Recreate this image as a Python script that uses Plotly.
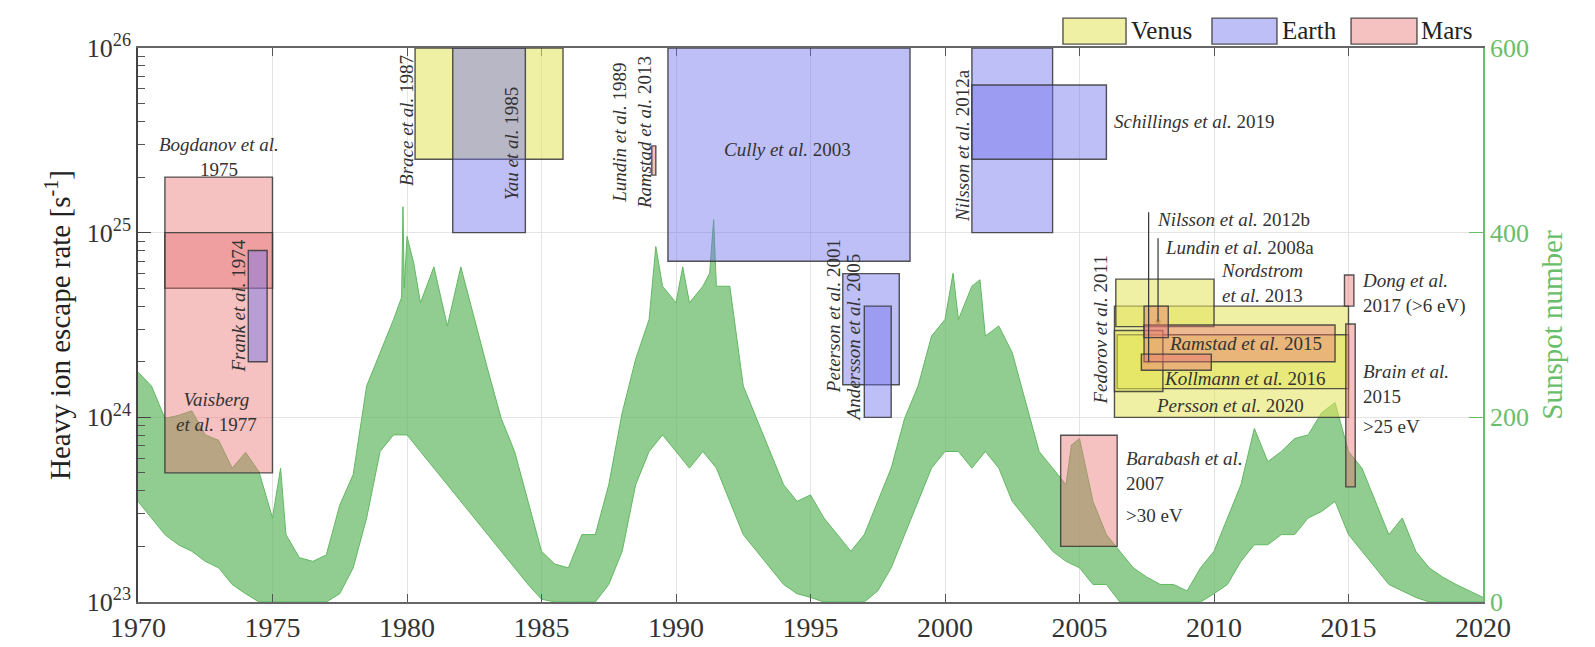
import plotly.graph_objects as go

# ---------------- data ----------------
# Sunspot number: upper envelope (spikes) and lower edge of the dense band
SSN_UP_YEAR = [1970.0, 1970.5, 1971.0, 1971.5, 1972.0, 1972.5, 1973.0, 1973.5, 1974.0, 1974.5,
               1975.0, 1975.3, 1975.5, 1976.0, 1976.5, 1977.0, 1977.5, 1978.0, 1978.5, 1979.0,
               1979.5, 1979.8, 1979.85, 1979.9, 1980.0, 1980.25, 1980.5, 1981.0, 1981.5, 1982.0,
               1982.5, 1983.0, 1983.5, 1984.0, 1984.5, 1985.0, 1985.5, 1986.0, 1986.5, 1987.0,
               1987.5, 1988.0, 1988.5, 1989.0, 1989.25, 1989.5, 1990.0, 1990.25, 1990.5, 1991.0,
               1991.25, 1991.4, 1991.5, 1992.0, 1992.5, 1993.0, 1993.5, 1994.0, 1994.5, 1995.0,
               1995.5, 1996.0, 1996.5, 1997.0, 1997.5, 1998.0, 1998.5, 1999.0, 1999.5, 2000.0,
               2000.3, 2000.5, 2001.0, 2001.3, 2001.5, 2002.0, 2002.5, 2003.0, 2003.5, 2004.0,
               2004.5, 2004.7, 2005.0, 2005.5, 2006.0, 2006.5, 2007.0, 2007.5, 2008.0, 2008.5,
               2009.0, 2009.5, 2010.0, 2010.5, 2011.0, 2011.5, 2012.0, 2012.5, 2013.0, 2013.5,
               2014.0, 2014.5, 2015.0, 2015.5, 2016.0, 2016.5, 2017.0, 2017.5, 2018.0, 2018.5,
               2019.0, 2019.5, 2020.0]
SSN_UP = [249, 234, 199, 202, 207, 181, 175, 145, 162, 141,
          91, 145, 73, 48, 44, 51, 105, 138, 234, 270,
          306, 330, 428, 340, 396, 367, 324, 363, 299, 363,
          306, 252, 199, 163, 109, 55, 41, 37, 73, 73,
          127, 205, 263, 306, 385, 342, 324, 363, 324, 342,
          356, 414, 342, 342, 234, 199, 163, 127, 109, 116,
          91, 73, 55, 73, 109, 145, 199, 234, 288, 306,
          356, 306, 342, 349, 288, 299, 270, 216, 163, 145,
          127, 170, 177, 109, 73, 55, 37, 27, 19, 19,
          12, 37, 55, 91, 127, 188, 152, 163, 177, 181,
          205, 216, 163, 145, 109, 73, 91, 55, 37, 27,
          19, 12, 5]
SSN_LO_YEAR = [1970.0, 1970.5, 1971.0, 1971.5, 1972.0, 1972.5, 1973.0, 1973.5, 1974.0, 1974.5,
               1975.0, 1975.5, 1976.0, 1976.5, 1977.0, 1977.5, 1978.0, 1978.5, 1979.0, 1979.5,
               1980.0, 1980.5, 1981.0, 1981.5, 1982.0, 1982.5, 1983.0, 1983.5, 1984.0, 1984.5,
               1985.0, 1985.5, 1986.0, 1986.5, 1987.0, 1987.5, 1988.0, 1988.5, 1989.0, 1989.5,
               1990.0, 1990.5, 1991.0, 1991.5, 1992.0, 1992.5, 1993.0, 1993.5, 1994.0, 1994.5,
               1995.0, 1995.5, 1996.0, 1996.5, 1997.0, 1997.5, 1998.0, 1998.5, 1999.0, 1999.5,
               2000.0, 2000.5, 2001.0, 2001.5, 2002.0, 2002.5, 2003.0, 2003.5, 2004.0, 2004.5,
               2005.0, 2005.5, 2006.0, 2006.5, 2007.0, 2007.5, 2008.0, 2008.5, 2009.0, 2009.5,
               2010.0, 2010.5, 2011.0, 2011.5, 2012.0, 2012.5, 2013.0, 2013.5, 2014.0, 2014.5,
               2015.0, 2015.5, 2016.0, 2016.5, 2017.0, 2017.5, 2018.0, 2018.5, 2019.0, 2019.5,
               2020.0]
SSN_LO = [109, 91, 73, 62, 55, 44, 37, 19, 9, 0,
          0, 0, 0, 0, 0, 9, 37, 91, 163, 181,
          181, 163, 145, 127, 109, 91, 73, 55, 37, 19,
          3, 0, 0, 0, 0, 19, 55, 127, 163, 181,
          163, 145, 163, 145, 109, 73, 55, 37, 19, 9,
          5, 0, 0, 0, 0, 12, 37, 73, 109, 145,
          163, 163, 145, 163, 145, 109, 91, 73, 55, 44,
          37, 19, 19, 0, 0, 0, 0, 0, 0, 0,
          9, 19, 44, 62, 62, 73, 73, 91, 98, 109,
          73, 55, 37, 19, 12, 5, 0, 0, 0, 0,
          0]

# Escape-rate estimates (boxes): years x0-x1, rates y0-y1 [s^-1]
BOX_NAME = ["Bogdanov 1975", "Vaisberg 1977", "Frank 1974", "Brace 1987", "Yau 1985",
            "Lundin 1989 / Ramstad 2013", "Cully 2003", "Peterson 2001", "Andersson 2005",
            "Nilsson 2012a", "Schillings 2019", "Barabash 2007", "Persson 2020",
            "Kollmann 2016", "Nordstrom 2013", "Fedorov 2011", "Ramstad 2015",
            "Lundin 2008a", "Nilsson 2012b", "Dong 2017", "Brain 2015"]
BOX_PLANET = ["Mars", "Mars", "Earth", "Venus", "Earth",
              "Mars", "Earth", "Earth", "Earth",
              "Earth", "Earth", "Mars", "Venus",
              "Venus", "Venus", "Venus", "Mars",
              "Mars", "Mars", "Mars", "Mars"]
BOX_X0 = [1971.0, 1971.0, 1974.1, 1980.3, 1981.7,
          1989.1, 1989.7, 1996.2, 1997.0,
          2001.0, 2001.0, 2004.3, 2006.3,
          2006.4, 2006.35, 2006.3, 2007.4,
          2007.4, 2007.3, 2014.85, 2014.9]
BOX_X1 = [1975.0, 1975.0, 1974.8, 1985.8, 1984.4,
          1989.25, 1998.7, 1998.3, 1998.0,
          2004.0, 2006.0, 2006.4, 2015.0,
          2015.0, 2010.0, 2008.1, 2014.5,
          2008.3, 2009.9, 2015.2, 2015.25]
BOX_Y0 = [5e24, 5e23, 2e24, 2.5e25, 1e25,
          2.05e25, 7e24, 1.5e24, 1e24,
          1e25, 2.5e25, 2e23, 1e24,
          1.43e24, 3.1e24, 1.38e24, 2e24,
          2.7e24, 1.8e24, 4e24, 4.2e23]
BOX_Y1 = [2e25, 1e25, 8e24, 1e26, 1e26,
          2.95e25, 1e26, 6e24, 4e24,
          1e26, 6.3e25, 8e23, 4e24,
          2.8e24, 5.6e24, 2.95e24, 3.16e24,
          4e24, 2.2e24, 5.9e24, 3.2e24]

# marked points (Lundin 2008a, Nilsson 2012b)
DOT_X = [2007.92, 2007.57]
DOT_Y = [3.3e24, 2.0e24]

PLANETS = ["Venus", "Earth", "Mars"]
X_TICKS = [1970, 1975, 1980, 1985, 1990, 1995, 2000, 2005, 2010, 2015, 2020]
Y_TICK_EXP = [23, 24, 25, 26]
SSN_TICKS = [0, 200, 400, 600]

# ---------------- styles / label placement ----------------
FILL = {"Venus": "rgba(228,228,90,0.55)",
        "Earth": "rgba(112,112,238,0.45)",
        "Mars": "rgba(232,118,118,0.45)"}
EDGE = "rgba(55,55,55,0.85)"
GREEN = "rgb(98,184,98)"
GREEN_TXT = "rgb(105,190,105)"
SERIF = "Liberation Serif, Times New Roman, Times, serif"

LABELS = [
    ("<i>Bogdanov et al.</i><br>1975", 1973.0, 25.41, 0, "center"),
    ("<i>Vaisberg</i><br><i>et al.</i> 1977", 1972.9, 24.03, 0, "center"),
    ("<i>Frank et al.</i> 1974", 1973.72, 24.60, -90, "center"),
    ("<i>Brace et al.</i> 1987", 1979.96, 25.61, -90, "center"),
    ("<i>Yau et al.</i> 1985", 1983.87, 25.48, -90, "center"),
    ("<i>Lundin et al.</i> 1989<br><i>Ramstad et al.</i> 2013", 1988.37, 25.54, -90, "center"),
    ("<i>Cully et al.</i> 2003", 1994.16, 25.45, 0, "center"),
    ("<i>Peterson et al.</i> 2001", 1995.85, 24.55, -90, "center"),
    ("<i>Andersson et al.</i> 2005", 1996.6, 24.43, -90, "center"),
    ("<i>Nilsson et al.</i> 2012a", 2000.67, 25.47, -90, "center"),
    ("<i>Schillings et al.</i> 2019", 2006.2, 25.6, 0, "left"),
    ("<i>Nilsson et al.</i> 2012b", 2007.8, 25.07, 0, "left"),
    ("<i>Lundin et al.</i> 2008a", 2008.1, 24.92, 0, "left"),
    ("<i>Nordstrom</i><br><i>et al.</i> 2013", 2010.2, 24.73, 0, "left"),
    ("<i>Fedorov et al.</i> 2011", 2005.8, 24.47, -90, "center"),
    ("<i>Ramstad et al.</i> 2015", 2011.17, 24.40, 0, "center"),
    ("<i>Kollmann et al.</i> 2016", 2011.15, 24.21, 0, "center"),
    ("<i>Persson et al.</i> 2020", 2010.58, 24.065, 0, "center"),
    ("<i>Dong et al.</i><br>2017 (>6 eV)", 2015.43, 24.67, 0, "left"),
    ("<i>Brain et al.</i><br>2015", 2015.47, 24.18, 0, "left"),
    (">25 eV", 2015.47, 23.95, 0, "left"),
    ("<i>Barabash et al.</i><br>2007", 2006.65, 23.71, 0, "left"),
    (">30 eV", 2006.65, 23.47, 0, "left"),
]
# leader lines from the dots up to their labels (end height in log10)
LEADER_TOP = [24.97, 25.11]

fig = go.Figure()

# sunspot band on the right axis
fig.add_trace(go.Scatter(x=SSN_LO_YEAR, y=SSN_LO, yaxis="y2", mode="lines",
                         line=dict(color=GREEN, width=1), hoverinfo="skip", showlegend=False))
fig.add_trace(go.Scatter(x=SSN_UP_YEAR, y=SSN_UP, yaxis="y2", mode="lines",
                         fill="tonexty", fillcolor="rgba(98,184,98,0.70)",
                         line=dict(color=GREEN, width=1), hoverinfo="skip", showlegend=False))

# dots on the log axis
fig.add_trace(go.Scatter(x=DOT_X, y=DOT_Y, mode="markers",
                         marker=dict(color="#222", size=5), hoverinfo="skip", showlegend=False))

shapes = []
for p, x0, x1, y0, y1 in zip(BOX_PLANET, BOX_X0, BOX_X1, BOX_Y0, BOX_Y1):
    shapes.append(dict(type="rect", xref="x", yref="y", x0=x0, x1=x1, y0=y0, y1=y1,
                       fillcolor=FILL[p], line=dict(color=EDGE, width=1.4), layer="above"))
for dx, dy, top in zip(DOT_X, DOT_Y, LEADER_TOP):
    shapes.append(dict(type="line", xref="x", yref="y", x0=dx, x1=dx, y0=dy, y1=10.0 ** top,
                       line=dict(color="#333", width=1.2), layer="above"))

# manual legend above the plot
LEG_X = [(0.6877, 0.7346, 0.7368), (0.7985, 0.8468, 0.849), (0.9019, 0.9509, 0.9524)]
annotations = []
for name, (a, b, t) in zip(PLANETS, LEG_X):
    shapes.append(dict(type="rect", xref="paper", yref="paper", x0=a, x1=b, y0=1.007, y1=1.054,
                       fillcolor=FILL[name], line=dict(color=EDGE, width=1.4), layer="above"))
    annotations.append(dict(xref="paper", yref="paper", x=t, y=1.031, text=name, showarrow=False,
                            xanchor="left", yanchor="middle",
                            font=dict(family=SERIF, size=25, color="#222")))

for text, x, y, ang, al in LABELS:
    annotations.append(dict(xref="x", yref="y", x=x, y=y, text=text, showarrow=False,
                            textangle=ang, xanchor=("left" if al == "left" else "center"),
                            yanchor="middle", align=al,
                            font=dict(family=SERIF, size=19, color="#333")))

minor_vals = [float(k) * 10.0 ** e for e in [23, 24, 25] for k in range(2, 10)]

fig.update_layout(
    width=1595, height=647,
    margin=dict(l=130, r=120, t=40, b=49),
    paper_bgcolor="white", plot_bgcolor="white",
    font=dict(family=SERIF, color="#333"),
    showlegend=False,
    shapes=shapes, annotations=annotations,
    xaxis=dict(range=[1970, 2020], tickvals=X_TICKS, ticks="inside", ticklen=8,
               tickcolor="#555", showline=True, linecolor="#666", linewidth=1.5,
               mirror="ticks", showgrid=True, gridcolor="#e4e4e4", gridwidth=1,
               zeroline=False, tickfont=dict(family=SERIF, size=28, color="#333")),
    yaxis=dict(type="log", range=[23, 26],
               tickvals=[10.0 ** e for e in Y_TICK_EXP],
               ticktext=[f"10<sup>{e}</sup>" for e in Y_TICK_EXP],
               ticks="inside", ticklen=13, tickcolor="#444",
               showline=True, linecolor="#444", linewidth=1.5,
               showgrid=True, gridcolor="#e4e4e4", zeroline=False,
               minor=dict(tickvals=minor_vals, ticks="inside", ticklen=7,
                          tickcolor="#555", showgrid=False),
               tickfont=dict(family=SERIF, size=26, color="#333"),
               title=dict(text="Heavy ion escape rate [s<sup>-1</sup>]", standoff=8,
                          font=dict(family=SERIF, size=29, color="#222"))),
    yaxis2=dict(overlaying="y", side="right", range=[0, 600], tickvals=SSN_TICKS,
                ticks="inside", ticklen=14, tickcolor=GREEN_TXT,
                showline=True, linecolor=GREEN_TXT, linewidth=1.5,
                showgrid=False, zeroline=False,
                tickfont=dict(family=SERIF, size=26, color=GREEN_TXT),
                title=dict(text="Sunspot number", standoff=14,
                           font=dict(family=SERIF, size=29, color=GREEN_TXT))),
)

fig.write_html("out.html")
